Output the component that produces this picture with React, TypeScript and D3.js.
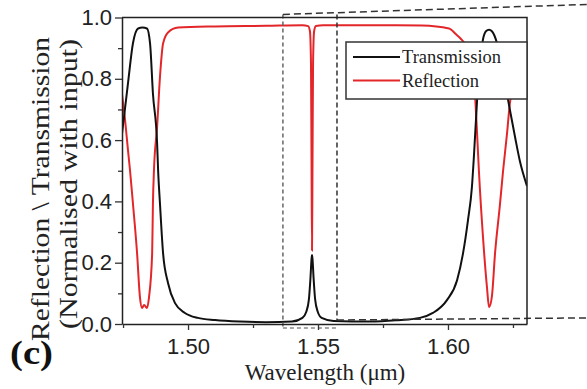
import React, { useRef, useEffect } from "react";
import * as d3 from "d3";

// Transmission spectrum (black)
const transWl = [
  1.4746, 1.4769, 1.4788, 1.4808, 1.4825, 1.4842, 1.4854, 1.4865, 1.4881, 1.4885,
  1.4892, 1.4904, 1.4923, 1.495, 1.4988, 1.5038, 1.5104, 1.52, 1.53, 1.54,
  1.544, 1.5455, 1.5465, 1.5471, 1.5475, 1.5477, 1.5479, 1.5483, 1.5489, 1.5499,
  1.5514, 1.556, 1.57, 1.58, 1.5892, 1.5942, 1.5996, 1.6035, 1.6058, 1.6077,
  1.6092, 1.61, 1.6112, 1.6123, 1.6135, 1.6146, 1.6158, 1.6169, 1.6188, 1.6212,
  1.6238, 1.6258, 1.6277, 1.6304,
];
const transVal = [
  0.62, 0.785, 0.915, 0.964, 0.967, 0.964, 0.915, 0.752, 0.59, 0.5,
  0.394, 0.231, 0.134, 0.068, 0.036, 0.02, 0.013, 0.008, 0.006, 0.008,
  0.02, 0.04, 0.08, 0.15, 0.21, 0.225, 0.21, 0.15, 0.08, 0.04,
  0.02, 0.01, 0.008, 0.012, 0.02, 0.036, 0.078, 0.143, 0.231, 0.339,
  0.446, 0.55, 0.73, 0.86, 0.93, 0.955, 0.96, 0.955, 0.918, 0.82,
  0.7, 0.61, 0.53, 0.45,
];

// Reflection spectrum (red)
const reflWl = [
  1.4746, 1.4758, 1.4769, 1.4777, 1.4788, 1.4804, 1.4815, 1.4823, 1.4831, 1.4842,
  1.485, 1.4862, 1.4865, 1.4869, 1.4881, 1.4892, 1.4904, 1.4923, 1.4962, 1.5104,
  1.53, 1.544, 1.5462, 1.5469, 1.5473, 1.5475, 1.5477, 1.5479, 1.5481, 1.5485,
  1.5492, 1.552, 1.58, 1.59, 1.6004, 1.6031, 1.605, 1.6069, 1.6092, 1.6104,
  1.6112, 1.6119, 1.6135, 1.615, 1.6158, 1.6169, 1.6181, 1.62, 1.6212, 1.6227,
  1.6238, 1.6258, 1.6277, 1.6304,
];
const reflVal = [
  0.75, 0.664, 0.567, 0.5, 0.394, 0.231, 0.088, 0.052, 0.062, 0.052,
  0.088, 0.231, 0.394, 0.502, 0.642, 0.805, 0.915, 0.951, 0.967, 0.971,
  0.973, 0.975, 0.972, 0.955, 0.85, 0.55, 0.24, 0.55, 0.85, 0.955,
  0.972, 0.975, 0.975, 0.974, 0.964, 0.945, 0.93, 0.91, 0.87, 0.75,
  0.62, 0.5, 0.28, 0.12, 0.055, 0.09, 0.23, 0.39, 0.5, 0.62,
  0.72, 0.8, 0.85, 0.89,
];

const xMajor = [1.5, 1.55, 1.6];
const xMinor = [1.475, 1.525, 1.575, 1.625];
const yMajor = [0, 0.2, 0.4, 0.6, 0.8, 1.0];
const yMinor = [0.1, 0.3, 0.5, 0.7, 0.9];

// zoomed window marked with the dashed box
const zoomWl = [1.5365, 1.5573];
const zoomVal = [-0.013, 1.01];

const legendItems = [
  { label: "Transmission", color: "#111" },
  { label: "Reflection", color: "#e3262a" },
];

const SERIF = "'Liberation Serif', 'Times New Roman', serif";
const SANS = "'Liberation Sans', Arial, sans-serif";

export default function App() {
  const svgRef = useRef<SVGSVGElement>(null);

  useEffect(() => {
    const width = 587;
    const height = 389;
    const margin = { top: 17.5, right: 60, bottom: 65, left: 122 };

    const svg = d3.select(svgRef.current).attr("width", width).attr("height", height);
    svg.selectAll("*").remove();

    const x = d3.scaleLinear().domain([1.4746, 1.6304]).range([margin.left, width - margin.right]);
    const y = d3.scaleLinear().domain([0, 1]).range([height - margin.bottom, margin.top]);

    const x0 = margin.left;
    const x1 = width - margin.right;
    const y0 = height - margin.bottom;
    const y1 = margin.top;

    const clip = svg.append("clipPath").attr("id", "plotclip");
    clip.append("rect").attr("x", x0).attr("y", y1).attr("width", x1 - x0).attr("height", y0 - y1);

    const line = d3.line<number>().curve(d3.curveMonotoneX);

    // Reflection below, transmission on top
    const plot = svg.append("g").attr("clip-path", "url(#plotclip)");
    plot.append("path")
      .attr("d", line.x((_, i) => x(reflWl[i])).y((d) => y(d))(reflVal))
      .attr("fill", "none")
      .attr("stroke", legendItems[1].color)
      .attr("stroke-width", 2);
    plot.append("path")
      .attr("d", line.x((_, i) => x(transWl[i])).y((d) => y(d))(transVal))
      .attr("fill", "none")
      .attr("stroke", legendItems[0].color)
      .attr("stroke-width", 2);

    // Dashed zoom window + connectors
    const zx0 = x(zoomWl[0]);
    const zx1 = x(zoomWl[1]);
    const zTop = y(zoomVal[1]);
    const zBot = y(zoomVal[0]);
    const dash = svg.append("g").attr("fill", "none").attr("stroke-width", 1.5);
    dash.append("line")
      .attr("x1", zx0).attr("x2", zx0).attr("y1", zTop).attr("y2", zBot)
      .attr("stroke", "#666").attr("stroke-dasharray", "4,3");
    dash.append("line")
      .attr("x1", zx1).attr("x2", zx1).attr("y1", zTop).attr("y2", y(0.013))
      .attr("stroke", "#333").attr("stroke-dasharray", "5,3");
    dash.append("line")
      .attr("x1", zx0).attr("x2", zx1).attr("y1", zBot).attr("y2", zBot)
      .attr("stroke", "#888").attr("stroke-dasharray", "4,3");
    dash.append("line")
      .attr("x1", zx0).attr("x2", width).attr("y1", zTop).attr("y2", zTop - 10)
      .attr("stroke", "#333").attr("stroke-dasharray", "7,4");
    dash.append("line")
      .attr("x1", zx1).attr("x2", width).attr("y1", y(0.013)).attr("y2", y(0.02))
      .attr("stroke", "#333").attr("stroke-dasharray", "7,4");

    // Frame
    svg.append("path")
      .attr("d", `M${x0},${y1}H${x1}V${y0}`)
      .attr("fill", "none")
      .attr("stroke", "#222")
      .attr("stroke-width", 1.5);

    // Axes
    const xAxis = svg.append("g")
      .attr("transform", `translate(0,${y0})`)
      .call(d3.axisBottom(x).tickValues(xMajor).tickFormat(d3.format(".2f")).tickSize(6).tickPadding(8).tickSizeOuter(0));
    svg.append("g")
      .attr("transform", `translate(0,${y0})`)
      .call(d3.axisBottom(x).tickValues(xMinor).tickFormat(() => "").tickSize(4).tickSizeOuter(0))
      .call((g) => g.select(".domain").remove());
    const yAxis = svg.append("g")
      .attr("transform", `translate(${x0},0)`)
      .call(d3.axisLeft(y).tickValues(yMajor).tickFormat(d3.format(".1f")).tickSize(7).tickPadding(3).tickSizeOuter(0));
    svg.append("g")
      .attr("transform", `translate(${x0},0)`)
      .call(d3.axisLeft(y).tickValues(yMinor).tickFormat(() => "").tickSize(4).tickSizeOuter(0))
      .call((g) => g.select(".domain").remove());

    svg.selectAll(".domain").attr("stroke", "#222").attr("stroke-width", 1.5);
    svg.selectAll(".tick line").attr("stroke", "#333").attr("stroke-width", 1.3);
    [xAxis, yAxis].forEach((g) =>
      g.selectAll(".tick text")
        .attr("font-family", SANS)
        .attr("font-size", 22)
        .attr("fill", "#222")
    );

    // Legend
    const lg = svg.append("g").attr("transform", `translate(${x1 - 181},${y1 + 24.5})`);
    lg.append("rect")
      .attr("width", 181).attr("height", 57)
      .attr("fill", "#fff").attr("stroke", "#333").attr("stroke-width", 1.5);
    legendItems.forEach((item, i) => {
      const cy = 15 + i * 23.5;
      lg.append("line")
        .attr("x1", 7).attr("x2", 54).attr("y1", cy).attr("y2", cy)
        .attr("stroke", item.color).attr("stroke-width", 2);
      lg.append("text")
        .attr("x", 56).attr("y", cy + 6)
        .attr("font-family", SERIF).attr("font-size", 18.5).attr("fill", "#222")
        .text(item.label);
    });

    // Axis titles
    svg.append("text")
      .attr("x", (x0 + x1) / 2 + 0.5).attr("y", 380)
      .attr("text-anchor", "middle")
      .attr("font-family", SERIF).attr("font-size", 23).attr("fill", "#222")
      .text("Wavelength (\u03bcm)");

    svg.append("text")
      .attr("transform", "translate(49,189) rotate(-90)")
      .attr("text-anchor", "middle")
      .attr("font-family", SERIF).attr("font-size", 26).attr("fill", "#222")
      .attr("textLength", 304).attr("lengthAdjust", "spacingAndGlyphs")
      .text("Reflection \\ Transmission");
    svg.append("text")
      .attr("transform", "translate(77,184) rotate(-90)")
      .attr("text-anchor", "middle")
      .attr("font-family", SERIF).attr("font-size", 26).attr("fill", "#222")
      .attr("textLength", 290).attr("lengthAdjust", "spacingAndGlyphs")
      .text("(Normalised with input)");

    // Panel label
    svg.append("text")
      .attr("x", 10).attr("y", 364)
      .attr("font-family", SERIF).attr("font-size", 33).attr("font-weight", "bold").attr("fill", "#111")
      .attr("textLength", 43).attr("lengthAdjust", "spacingAndGlyphs")
      .text("(c)");
  }, []);

  return <svg ref={svgRef} style={{ position: "absolute", left: 0, top: 0, background: "#fff" }}></svg>;
}
